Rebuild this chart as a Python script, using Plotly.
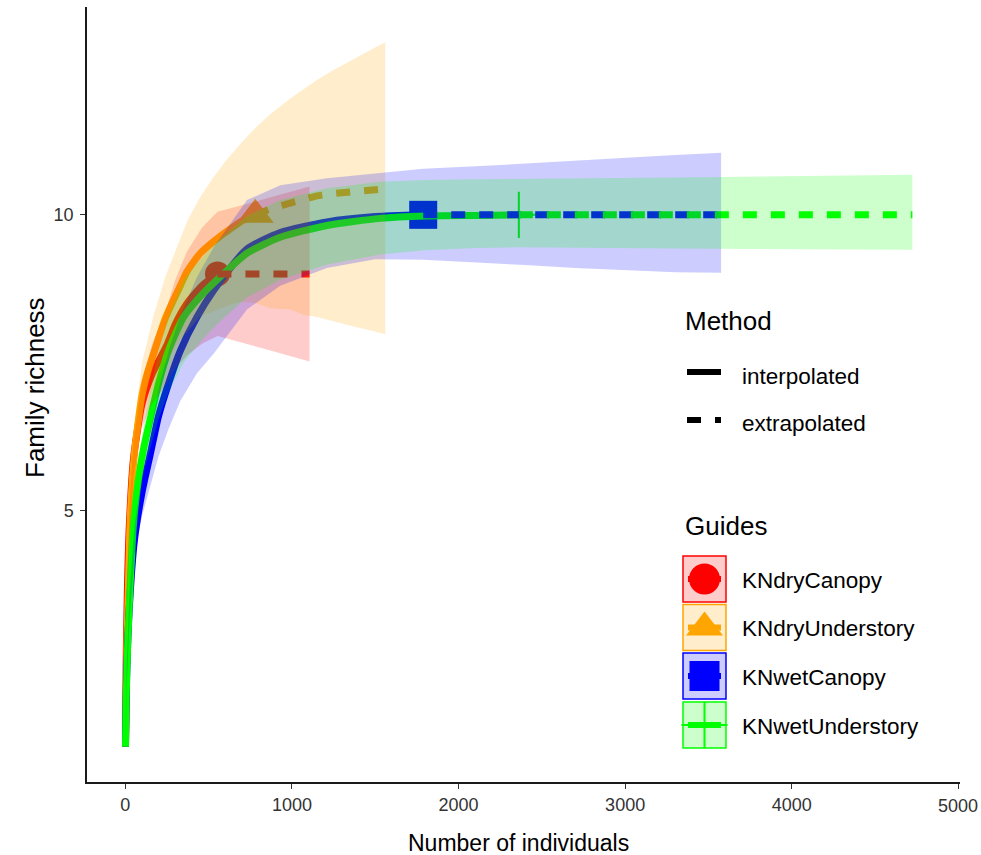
import plotly.graph_objects as go

W, H = 981, 855

# ---------------- data ----------------
sites = ["KNdryCanopy", "KNdryUnderstory", "KNwetCanopy", "KNwetUnderstory"]
colors = ["#FF0000", "#FFA500", "#0000FF", "#00FF00"]
fills = ["rgba(255,0,0,0.2)", "rgba(255,165,0,0.2)", "rgba(0,0,255,0.2)", "rgba(0,255,0,0.2)"]
symbols = ["circle", "triangle-up", "square", "cross-thin"]

# KNdryCanopy
dc_n = 553
dc_s = 9.0
dc_m = [1, 5, 12, 25, 50, 100, 160, 250, 300, 370, 460, 553, 650, 750, 850, 950, 1050, 1106]
dc_y = [1, 2.4, 3.6, 4.8, 5.9, 6.8, 7.3, 7.8, 8.15, 8.5, 8.8, 9.0, 9.0, 9.0, 9.0, 9.0, 9.0, 9.0]
dc_lo = [1, 2.25, 3.4, 4.55, 5.6, 6.4, 6.8, 7.15, 7.4, 7.62, 7.82, 7.95, 7.88, 7.8, 7.72, 7.64, 7.56, 7.52]
dc_hi = [1, 2.55, 3.8, 5.05, 6.2, 7.2, 7.8, 8.45, 8.9, 9.38, 9.78, 10.05, 10.12, 10.2, 10.28, 10.36, 10.44, 10.48]

# KNdryUnderstory
du_n = 780
du_s = 10.0
du_m = [1, 4, 10, 20, 30, 56, 100, 135, 170, 240, 330, 372, 450, 530, 600, 690, 780,
        870, 990, 1070, 1150, 1250, 1370, 1480, 1560]
du_y = [1, 1.7, 2.8, 3.9, 4.9, 6.0, 6.95, 7.35, 7.65, 8.25, 8.8, 9.05, 9.35, 9.55, 9.7, 9.88, 10.0,
        10.1, 10.2, 10.27, 10.32, 10.36, 10.39, 10.42, 10.44]
du_lo = [1, 1.55, 2.6, 3.65, 4.6, 5.65, 6.5, 6.85, 7.1, 7.5, 7.9, 8.02, 8.28, 8.37, 8.45, 8.53, 8.51,
         8.42, 8.4, 8.31, 8.27, 8.2, 8.11, 8.04, 7.98]
du_hi = [1, 1.9, 3.1, 4.25, 5.3, 6.45, 7.5, 7.9, 8.3, 8.95, 9.62, 9.9, 10.3, 10.64, 10.9, 11.2, 11.47,
         11.7, 11.97, 12.13, 12.28, 12.45, 12.64, 12.8, 12.92]

# KNwetCanopy
wc_n = 1788
wc_s = 10.0
wc_m = [1, 8, 25, 55, 100, 150, 200, 260, 330, 430, 530, 730, 930, 1210, 1500, 1788,
        2100, 2400, 2700, 3000, 3300, 3576]
wc_y = [1, 2.2, 3.4, 4.5, 5.3, 5.95, 6.6, 7.15, 7.7, 8.27, 8.72, 9.42, 9.7, 9.88, 9.97, 10.0,
        10.0, 10.0, 10.0, 10.0, 10.0, 10.0]
wc_lo = [1, 2.0, 3.15, 4.25, 4.9, 5.4, 5.92, 6.38, 6.85, 7.32, 7.65, 8.4, 8.8, 9.1, 9.25, 9.24,
         9.2, 9.15, 9.1, 9.06, 9.03, 9.02]
wc_hi = [1, 2.35, 3.6, 4.75, 5.6, 6.3, 7.05, 7.7, 8.3, 8.95, 9.45, 10.25, 10.5, 10.62, 10.7, 10.78,
         10.82, 10.87, 10.92, 10.97, 11.01, 11.05]

# KNwetUnderstory
wu_n = 2362
wu_s = 10.0
wu_m = [1, 5, 15, 30, 50, 80, 110, 150, 200, 260, 350, 450, 550, 730, 930, 1210, 1530, 1800, 2100, 2362,
        2800, 3300, 3800, 4300, 4724]
wu_y = [1, 1.8, 2.8, 3.8, 4.8, 5.55, 6.05, 6.55, 7.15, 7.71, 8.27, 8.62, 8.9, 9.35, 9.62, 9.82, 9.94, 9.98, 9.99, 10.0,
        10.0, 10.0, 10.0, 10.0, 10.0]
wu_lo = [1, 1.65, 2.6, 3.55, 4.5, 5.2, 5.65, 6.05, 6.55, 7.0, 7.5, 7.85, 8.15, 8.6, 8.9, 9.16, 9.33, 9.4, 9.44, 9.45,
         9.44, 9.43, 9.42, 9.41, 9.41]
wu_hi = [1, 1.95, 3.0, 4.05, 5.1, 5.9, 6.45, 7.05, 7.7, 8.3, 8.9, 9.25, 9.55, 9.98, 10.25, 10.45, 10.56, 10.59, 10.6, 10.61,
         10.62, 10.63, 10.65, 10.67, 10.68]

x_ticks = [0, 1000, 2000, 3000, 4000, 5000]
y_ticks = [5, 10]
method_labels = ["interpolated", "extrapolated"]

data = [
    (dc_m, dc_y, dc_lo, dc_hi, dc_n, dc_s),
    (du_m, du_y, du_lo, du_hi, du_n, du_s),
    (wc_m, wc_y, wc_lo, wc_hi, wc_n, wc_s),
    (wu_m, wu_y, wu_lo, wu_hi, wu_n, wu_s),
]

FONT = "Liberation Sans, Arial, sans-serif"
LW = 7
DASH = "14px,14px"

fig = go.Figure()

# observed points (drawn first, like ggplot's geom_point layer)
for (m, y, lo, hi, n, s), col, sym in zip(data, colors, symbols):
    if sym == "cross-thin":
        mk = dict(symbol=sym, size=33, color=col, line=dict(width=2, color=col))
    elif sym == "triangle-up":
        mk = dict(symbol=sym, size=32, color=col, line=dict(width=0))
    elif sym == "square":
        mk = dict(symbol=sym, size=28, color=col, line=dict(width=0))
    else:
        mk = dict(symbol=sym, size=25, color=col, line=dict(width=0))
    fig.add_trace(go.Scatter(x=[n], y=[s], mode="markers", marker=mk,
                             showlegend=False, hoverinfo="skip", cliponaxis=False))

# interpolated lines
for (m, y, lo, hi, n, s), col in zip(data, colors):
    xi = [a for a in m if a <= n]
    yi = [b for a, b in zip(m, y) if a <= n]
    fig.add_trace(go.Scatter(x=xi, y=yi, mode="lines",
                             line=dict(color=col, width=LW, shape="spline", smoothing=0.6),
                             showlegend=False, hoverinfo="skip"))

# extrapolated lines
for (m, y, lo, hi, n, s), col in zip(data, colors):
    xe = [a for a in m if a >= n]
    ye = [b for a, b in zip(m, y) if a >= n]
    fig.add_trace(go.Scatter(x=xe, y=ye, mode="lines", line=dict(color=col, width=LW, dash=DASH),
                             showlegend=False, hoverinfo="skip"))

# confidence ribbons (alpha 0.2, drawn last)
for (m, y, lo, hi, n, s), fc in zip(data, fills):
    fig.add_trace(go.Scatter(x=list(m) + list(m)[::-1], y=list(hi) + list(lo)[::-1],
                             mode="lines", fill="toself", fillcolor=fc, line=dict(width=0),
                             showlegend=False, hoverinfo="skip"))

# ---------------- custom legend on a pixel overlay axis ----------------
LX0, LX1 = 683, 726
LCX = (LX0 + LX1) / 2
KX0, KX1 = 687, 721
TX = 740
fig.add_trace(go.Scatter(x=[KX0, KX1], y=[372, 372], mode="lines", line=dict(color="black", width=6),
                         xaxis="x2", yaxis="y2", showlegend=False, hoverinfo="skip"))
fig.add_trace(go.Scatter(x=[KX0, KX1], y=[420, 420], mode="lines",
                         line=dict(color="black", width=6, dash=DASH),
                         xaxis="x2", yaxis="y2", showlegend=False, hoverinfo="skip"))

row_c = [579, 627.5, 676, 725]
shapes = []
for i, (col, fc, sym) in enumerate(zip(colors, fills, symbols)):
    c = row_c[i]
    shapes.append(dict(type="rect", xref="x2", yref="y2", x0=LX0, x1=LX1, y0=c - 23, y1=c + 23,
                       fillcolor=fc, line=dict(color=col, width=1.5), layer="below"))
    if sym == "cross-thin":
        mk = dict(symbol=sym, size=33, color=col, line=dict(width=2, color=col))
    elif sym == "triangle-up":
        mk = dict(symbol=sym, size=32, color=col, line=dict(width=0))
    elif sym == "square":
        mk = dict(symbol=sym, size=30, color=col, line=dict(width=0))
    else:
        mk = dict(symbol=sym, size=31, color=col, line=dict(width=0))
    fig.add_trace(go.Scatter(x=[LCX], y=[c], mode="markers", marker=mk,
                             xaxis="x2", yaxis="y2", showlegend=False, hoverinfo="skip"))
    fig.add_trace(go.Scatter(x=[KX0 + 1, KX1], y=[c, c], mode="lines", line=dict(color=col, width=6),
                             xaxis="x2", yaxis="y2", showlegend=False, hoverinfo="skip"))

annotations = [
    dict(text="Number of individuals", x=518, y=843, font=dict(size=23, color="black", family=FONT)),
    dict(text="Family richness", x=35, y=388, textangle=-90, font=dict(size=26, color="black", family=FONT)),
    dict(text="Method", x=683, y=321, xanchor="left", font=dict(size=26, color="black", family=FONT)),
    dict(text=method_labels[0], x=TX, y=376, xanchor="left", font=dict(size=22.5, color="black", family=FONT)),
    dict(text=method_labels[1], x=TX, y=423, xanchor="left", font=dict(size=22.5, color="black", family=FONT)),
    dict(text="Guides", x=683, y=526, xanchor="left", font=dict(size=26, color="black", family=FONT)),
]
for i, s in enumerate(sites):
    annotations.append(dict(text=s, x=TX, y=row_c[i] + 1, xanchor="left",
                            font=dict(size=22.5, color="black", family=FONT)))
for a in annotations:
    a.update(xref="x2", yref="y2", showarrow=False)
    a.setdefault("xanchor", "center")
    a.setdefault("yanchor", "middle")
# last x tick label (the axis hides it because it touches the page edge)
annotations.append(dict(text=str(x_ticks[-1]), x=x_ticks[-1], y=-0.6, xref="x", yref="y2",
                        showarrow=False, xanchor="center", yanchor="middle",
                        font=dict(size=18, color="#333333", family=FONT)))
annotations[-1]["y"] = 806

fig.update_layout(
    width=W, height=H, autosize=False,
    margin=dict(l=0, r=0, t=0, b=0, pad=0),
    paper_bgcolor="white",
    plot_bgcolor="rgba(0,0,0,0)",
    font=dict(family=FONT),
    showlegend=False,
    shapes=shapes,
    annotations=annotations,
    xaxis=dict(domain=[87 / W, 960 / W], range=[-230, 5010], tickvals=x_ticks,
               ticktext=[str(v) for v in x_ticks],
               showgrid=False, zeroline=False, showline=True, linecolor="#1a1a1a", linewidth=1.5,
               ticks="outside", ticklen=5, tickwidth=1, tickcolor="#333333",
               tickfont=dict(size=18, color="#333333", family=FONT), ticklabelstandoff=1,
               ticklabeloverflow="hide past domain",
               anchor="y"),
    yaxis=dict(domain=[1 - 782 / H, 1 - 7 / H], range=[0.404, 13.516], tickvals=y_ticks,
               ticktext=[str(v) for v in y_ticks],
               showgrid=False, zeroline=False, showline=True, linecolor="#1a1a1a", linewidth=1.5,
               ticks="outside", ticklen=5, tickwidth=1, tickcolor="#333333",
               tickfont=dict(size=18, color="#333333", family=FONT), ticklabelstandoff=3,
               anchor="x"),
    xaxis2=dict(domain=[0, 1], range=[0, W], visible=False, anchor="y2", fixedrange=True),
    yaxis2=dict(domain=[0, 1], range=[H, 0], visible=False, anchor="x2", fixedrange=True),
)

fig.write_html(
    "out.html",
    config={"responsive": False, "displayModeBar": False},
    post_script="document.body.style.margin='0';document.body.style.overflow='hidden';"
                "document.documentElement.style.overflow='hidden';",
)
